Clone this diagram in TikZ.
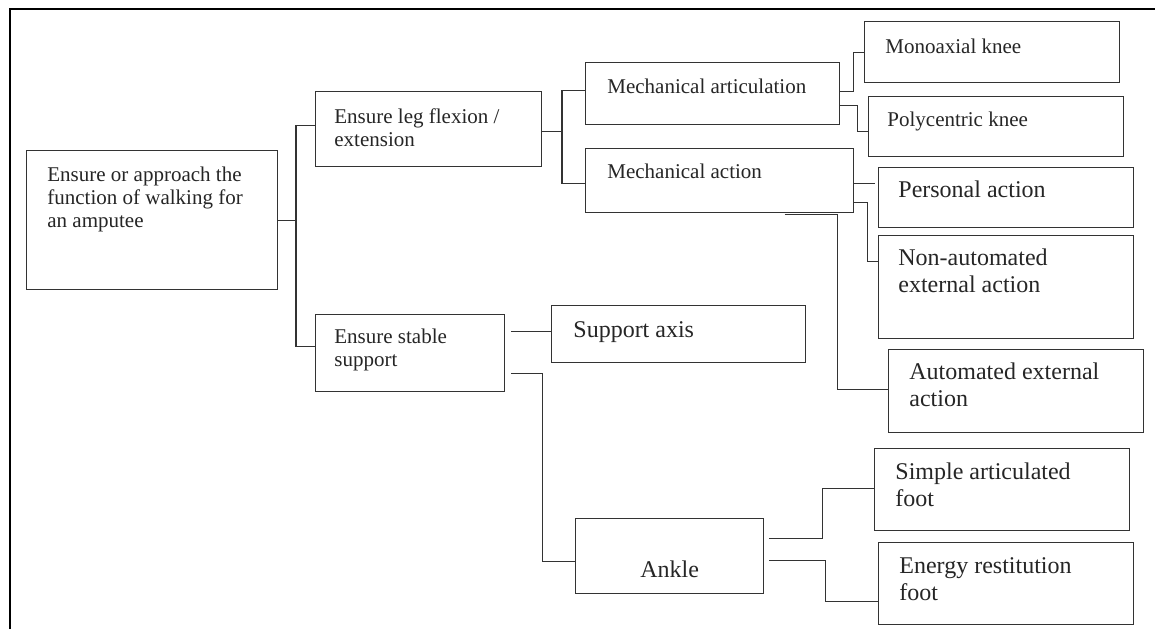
\documentclass[tikz,border=0pt]{standalone}
\usepackage{fontspec}
\setmainfont{Liberation Serif}
\usetikzlibrary{positioning}

\tikzset{
    box/.style={draw=black!80, line width=0.6pt, anchor=north west, inner sep=0pt},
    txt/.style={anchor=base west, align=left, inner sep=0pt, text=black!85},
    smalltxt/.style={txt, font=\fontsize{10.5}{11.5}\selectfont},
    bigtxt/.style={txt, font=\fontsize{12}{13.4}\selectfont},
    conn/.style={draw=black!80, line width=0.6pt},
    frame/.style={draw=black, line width=1.3pt}
}

\begin{document}
\begin{tikzpicture}[x=0.5pt, y=-0.5pt]
    % page size and the cut frame
    \fill[white] (0,0) rectangle (1155,629);
    \useasboundingbox (0,0) rectangle (1155,629);
    \draw[frame] (10,629) -- (10,9) -- (1155,9);

    % Boxes (name / left / top / width / height)
    \foreach \nm/\x/\y/\w/\h in {
    root/26/150/251/139,
    flex/315/91/226/75,
    stable/315/314/189/77,
    artic/585/62/254/62,
    action/585/148/268/64,
    mono/864/21/255/61,
    poly/868/96/255/60,
    personal/878/167/255/60,
    nonauto/878/235/255/103,
    auto/888/349/255/83,
    support/551/305/254/57,
    ankle/575/518/188/75,
    simple/874/448/255/82,
    energy/878/542/255/82} {
    \node[box, minimum width=\w*0.5pt, minimum height=\h*0.5pt] (\nm) at (\x,\y) {};
    }

    % Texts in the smaller size (y = baseline of the last line)
    \foreach \nm/\x/\y/\txt in {
    rootT/47/227/{Ensure or approach the\\function of walking for\\an amputee},
    flexT/334/146/{Ensure leg flexion /\\extension},
    stableT/334/366/{Ensure stable\\support},
    articT/607/93/{Mechanical articulation},
    actionT/607/178/{Mechanical action},
    monoT/885/53/{Monoaxial knee},
    polyT/887/126/{Polycentric knee}} {
    \node[smalltxt] (\nm) at (\x,\y) {\txt};
    }

    % Texts in the larger size (y = baseline of the last line)
    \foreach \nm/\x/\y/\txt in {
    personalT/898/197/{Personal action},
    nonautoT/898/292/{Non-automated\\external action},
    autoT/909/406/{Automated external\\action},
    supportT/573/337/{Support axis},
    ankleT/640/577/{Ankle},
    simpleT/895/506/{Simple articulated\\foot},
    energyT/899/600/{Energy restitution\\foot}} {
    \node[bigtxt] (\nm) at (\x,\y) {\txt};
    }

    % Connectors
    \draw[conn] (root.east) -- ++(19,0);
    \draw[conn] ([yshift=1.75pt]flex.west) -- ++(-19,0) |- ([yshift=3.25pt]stable.west);

    \draw[conn] ([yshift=-1.25pt]flex.east) -- ++(21,0);
    \draw[conn] ([yshift=1.5pt]artic.west) -- ++(-23,0) |- ([yshift=-1.5pt]action.west);

    \draw[conn] ([yshift=1pt]artic.east) -- ++(13,0) |- (mono.west);
    \draw[conn] ([yshift=-6pt]artic.east) -- ++(17,0) |- ([yshift=-2.5pt]poly.west);

    \draw[conn] ([yshift=-1.5pt]action.east) -- ++(21,0);
    \draw[conn] ([yshift=-11pt]action.east) -- ++(13,0) |- ([yshift=12.75pt]nonauto.west);
    \draw[conn] ([xshift=32.5pt,yshift=-0.5pt]action.south) -- ++(53,0) |- ([yshift=0.75pt]auto.west);

    \draw[conn] ([xshift=3pt,yshift=10.75pt]stable.east) -- ([yshift=1.25pt]support.west);
    \draw[conn] ([xshift=3pt,yshift=-10.25pt]stable.east) -- ++(31,0) |- ([yshift=-2.75pt]ankle.west);

    \draw[conn] ([xshift=2.5pt,yshift=8.75pt]ankle.east) -- ++(53,0) |- ([yshift=0.5pt]simple.west);
    \draw[conn] ([xshift=2.5pt,yshift=-2.25pt]ankle.east) -- ++(56,0) |- ([yshift=-9pt]energy.west);

\end{tikzpicture}
\end{document}
